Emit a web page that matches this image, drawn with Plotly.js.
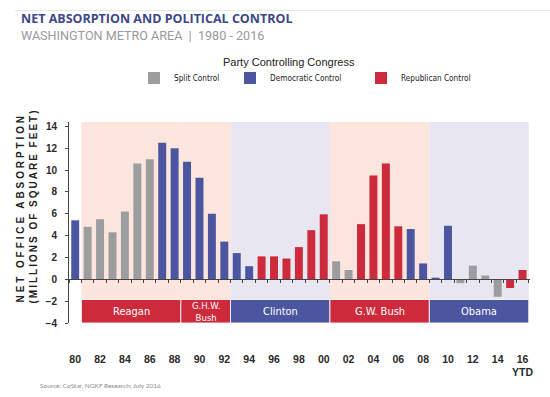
<!DOCTYPE html>
<html>
<head>
<meta charset="utf-8">
<script src="https://cdn.plot.ly/plotly-3.0.1.min.js"></script>
<style>
  html, body { margin: 0; padding: 0; background: #fff; }
  #chart { width: 550px; height: 397px; }
  .annotation[data-index="3"] .annotation-text { letter-spacing: 2.9px; }
  .annotation[data-index="4"] .annotation-text { letter-spacing: 2.0px; }
</style>
</head>
<body>
<div id="chart"></div>
<script>
// ---- data ----
const years = [1980,1981,1982,1983,1984,1985,1986,1987,1988,1989,1990,1991,1992,1993,1994,1995,1996,1997,1998,1999,2000,2001,2002,2003,2004,2005,2006,2007,2008,2009,2010,2011,2012,2013,2014,2015,2016];
const absorption = [5.4,4.8,5.5,4.3,6.2,10.6,11.0,12.5,12.0,10.75,9.3,6.0,3.45,2.4,1.2,2.1,2.1,1.9,2.95,4.5,5.95,1.65,0.85,5.05,9.5,10.6,4.85,4.6,1.45,0.15,4.9,-0.35,1.25,0.35,-1.6,-0.8,0.85];
const control = ["D","S","S","S","S","S","S","D","D","D","D","D","D","D","D","R","R","R","R","R","R","S","S","R","R","R","R","D","D","D","D","S","S","S","S","R","R"];
const controlKeys = ["S","D","R"];
const controlNames = ["Split Control","Democratic Control","Republican Control"];

const presidents = ["Reagan","G.H.W.<br>Bush","Clinton","G.W. Bush","Obama"];
const presStart = [1980.5,1988.5,1992.5,2000.5,2008.5];
const presEnd = [1988.5,1992.5,2000.5,2008.5,2016.5];
const presParty = ["R","R","D","R","D"];

const tickYears = [1980,1982,1984,1986,1988,1990,1992,1994,1996,1998,2000,2002,2004,2006,2008,2010,2012,2014,2016];
const tickLabels = ["80","82","84","86","88","90","92","94","96","98","00","02","04","06","08","10","12","14","16<br>YTD"];

// ---- styles ----
const barColors = {S: "#9b9d9f", D: "#4b55a0", R: "#cd2a3b"};
const bandColors = {R: "#cd2a3b", D: "#4b55a0"};
const shadeColors = {R: "#fbe5dc", D: "#e8e6f1"};
const narrow = "DejaVu Sans Condensed, Arial Narrow, sans-serif";

const W = 550, H = 397;
const M = {l: 69, r: 20, t: 122, b: 74};
const pw = W - M.l - M.r, ph = H - M.t - M.b;
const px = x => (x - M.l) / pw;
const py = y => (H - M.b - y) / ph;

const yMin = -4, yMax = 14.4;
const bandTop = -1.85;

const traces = controlKeys.map((k, i) => {
  const xs = [], ys = [];
  years.forEach((yr, j) => { if (control[j] === k) { xs.push(yr); ys.push(absorption[j]); } });
  return {
    type: "bar", x: xs, y: ys, name: controlNames[i],
    width: 0.64,
    marker: {color: barColors[k]},
    legend: i === 0 ? "legend" : (i === 1 ? "legend2" : "legend3"),
    hoverinfo: "x+y"
  };
});
// invisible trace carrying the zero-line axis with year ticks
traces.push({type: "scatter", x: [years[0]], y: [0], xaxis: "x2", mode: "markers",
  marker: {opacity: 0}, showlegend: false, hoverinfo: "skip"});

const shapes = [];
presidents.forEach((p, i) => {
  shapes.push({type: "rect", xref: "x", yref: "y", x0: presStart[i], x1: presEnd[i],
    y0: bandTop, y1: yMax, fillcolor: shadeColors[presParty[i]], line: {width: 0}, layer: "below"});
});
presidents.forEach((p, i) => {
  shapes.push({type: "rect", xref: "x", yref: "y", x0: presStart[i], x1: presEnd[i],
    y0: yMin, y1: bandTop, fillcolor: bandColors[presParty[i]],
    line: {width: 1, color: "rgba(255,255,255,0.85)"}, layer: "below"});
});
shapes.push({type: "line", xref: "paper", yref: "paper", x0: px(15), x1: px(550), y0: py(10.5), y1: py(10.5),
  line: {color: "#e6e6e6", width: 1}});

const annotations = [
  {text: "NET ABSORPTION AND POLITICAL CONTROL", xref: "paper", yref: "paper", x: px(19), y: py(18.5),
   xanchor: "left", yanchor: "middle", showarrow: false,
   font: {family: "Open Sans, sans-serif", size: 12.5, weight: 700, color: "#3d4889"}},
  {text: "WASHINGTON METRO AREA  |  1980 - 2016", xref: "paper", yref: "paper", x: px(19), y: py(35),
   xanchor: "left", yanchor: "middle", showarrow: false,
   font: {family: "Roboto, sans-serif", size: 12.6, color: "#9a9a9a"}},
  {text: "Party Controlling Congress", xref: "paper", yref: "paper", x: px(288.5), y: py(62),
   xanchor: "center", yanchor: "middle", showarrow: false,
   font: {family: "Liberation Sans, Arial, sans-serif", size: 11, color: "#222"}},
  {text: "NET OFFICE ABSORPTION", xref: "paper", yref: "paper", x: px(20.5), y: py(207.5),
   xanchor: "center", yanchor: "middle", textangle: -90, showarrow: false,
   font: {family: "Liberation Sans, Arial, sans-serif", size: 10, weight: 700, color: "#222"}},
  {text: "(MILLIONS OF SQUARE FEET)", xref: "paper", yref: "paper", x: px(33), y: py(206.5),
   xanchor: "center", yanchor: "middle", textangle: -90, showarrow: false,
   font: {family: "Liberation Sans, Arial, sans-serif", size: 10, weight: 700, color: "#222"}},
  {text: "Source: CoStar, NGKF Research; July 2016", xref: "paper", yref: "paper", x: px(38), y: py(385),
   xanchor: "left", yanchor: "middle", showarrow: false,
   font: {family: "Lato, sans-serif", size: 6.5, color: "#8a8a8a"}}
];
presidents.forEach((p, i) => {
  annotations.push({text: p, xref: "x", yref: "y", x: (presStart[i] + presEnd[i]) / 2, y: (yMin + bandTop) / 2,
    xanchor: "center", yanchor: "middle", showarrow: false,
    font: {family: narrow, size: p.indexOf("<br>") >= 0 ? 9.5 : 11, color: "#ffffff"}});
});

const legendBase = {orientation: "h", xanchor: "left", yanchor: "middle", y: py(78),
  font: {family: narrow, size: 8.2, color: "#222"}, bgcolor: "rgba(0,0,0,0)", itemwidth: 30};

const layout = {
  width: W, height: H,
  margin: M,
  paper_bgcolor: "#ffffff", plot_bgcolor: "rgba(0,0,0,0)",
  barmode: "overlay",
  showlegend: true,
  legend: Object.assign({}, legendBase, {x: px(134)}),
  legend2: Object.assign({}, legendBase, {x: px(230)}),
  legend3: Object.assign({}, legendBase, {x: px(361)}),
  xaxis: {
    range: [1979.5, 2016.6], tickvals: tickYears, ticktext: tickLabels,
    ticks: "", showline: false, showgrid: false, zeroline: false,
    ticklabelstandoff: 28,
    tickfont: {family: "Liberation Sans, Arial, sans-serif", size: 10.5, weight: 700, color: "#2a2a2a"},
    fixedrange: true
  },
  xaxis2: {
    overlaying: "x", matches: "x", anchor: "free", position: (0 - yMin) / (yMax - yMin),
    side: "bottom", showline: true, linecolor: "#444", linewidth: 1,
    ticks: "outside", ticklen: 3, tickwidth: 1, tickcolor: "#444",
    tick0: 1980.5, dtick: 1, tickmode: "linear",
    showticklabels: false, showgrid: false, zeroline: false
  },
  yaxis: {
    range: [yMin, yMax], tickvals: [-4,-2,0,2,4,6,8,10,12,14],
    showline: true, linecolor: "#444", linewidth: 1,
    ticks: "outside", ticklen: 3, tickcolor: "#444",
    ticklabelstandoff: 6,
    showgrid: false, zeroline: false,
    tickfont: {family: "Liberation Sans, Arial, sans-serif", size: 10, weight: 700, color: "#2a2a2a"},
    fixedrange: true
  },
  shapes: shapes,
  annotations: annotations
};

Plotly.newPlot("chart", traces, layout, {displayModeBar: false, staticPlot: true});
</script>
</body>
</html>
